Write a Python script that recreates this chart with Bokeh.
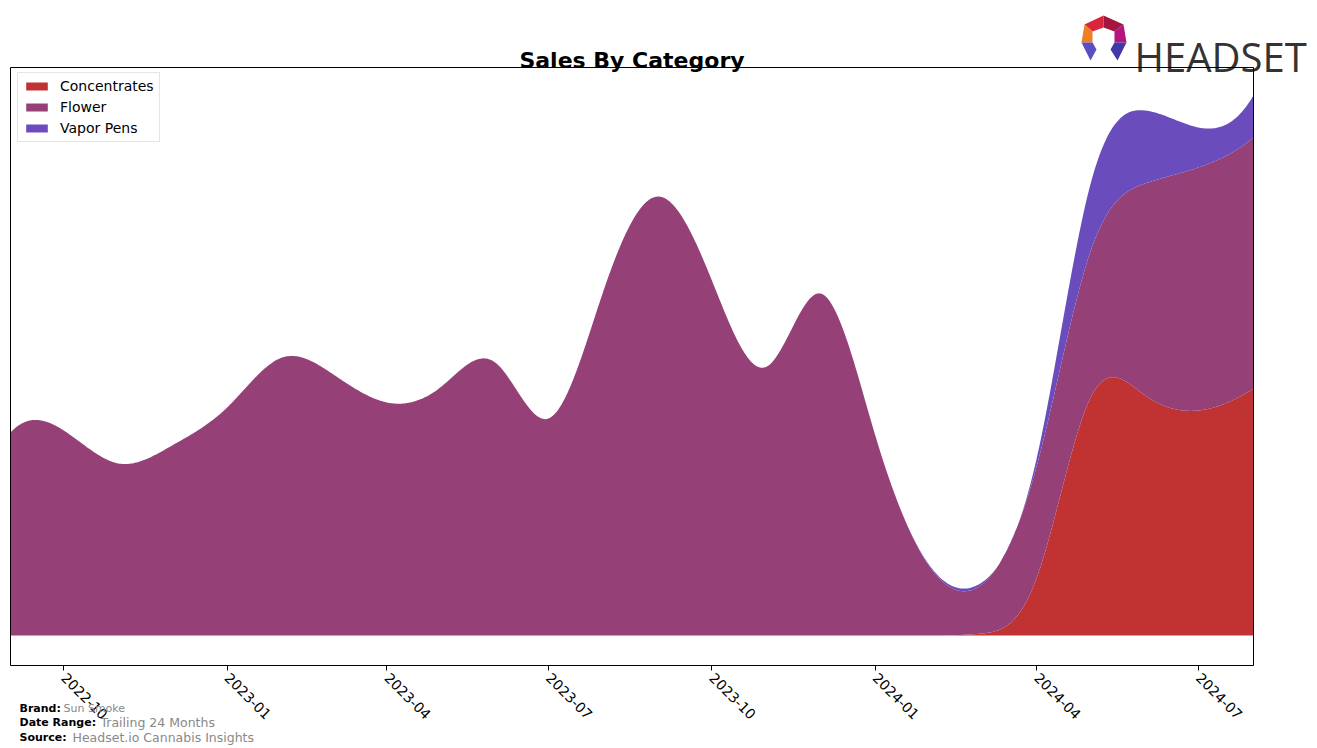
import math
import numpy as np
import pandas as pd
from bokeh.plotting import figure
from bokeh.models import (Range1d, FixedTicker, DatetimeTickFormatter, Label,
                          PolyAnnotation, BoxAnnotation)
from bokeh.embed import file_html
from bokeh.resources import INLINE

# ---------------- data (monthly) ----------------
months = ["2022-09", "2022-10", "2022-11", "2022-12", "2023-01", "2023-02",
          "2023-03", "2023-04", "2023-05", "2023-06", "2023-07", "2023-08",
          "2023-09", "2023-10", "2023-11", "2023-12", "2024-01", "2024-02",
          "2024-03", "2024-04", "2024-05", "2024-06", "2024-07", "2024-08"]
concentrates = [0, 0, 0, 0, 0, 0, 0, 0, 0, 0, 0, 0,
                0, 0, 0, 0, 0, 0, 2, 58, 237, 240, 225, 247]
flower = [203, 205, 172, 190, 228, 278, 262, 233, 248, 273, 217, 345,
          439, 355, 269, 342, 200, 68, 49, 112, 146, 212, 243, 251]
vapor_pens = [0, 0, 0, 0, 0, 0, 0, 0, 0, 0, 0, 0,
              0, 0, 0, 0, 0, 1, 2, 8, 67, 73, 40, 42]
series_names = ["Concentrates", "Flower", "Vapor Pens"]
series_colors = ["#c13333", "#964078", "#6a4cbc"]
tick_labels = ["2022-10", "2023-01", "2023-04", "2023-07", "2023-10",
               "2024-01", "2024-04", "2024-07"]

title_text = "Sales By Category"
brand = "Sun Smoke"
date_range = "Trailing 24 Months"
source = "Headset.io Cannabis Insights"


# ---------------- smoothing (cubic spline, not-a-knot) ----------------
def spline(x, y, xs):
    x = np.asarray(x, float)
    y = np.asarray(y, float)
    n = len(x)
    h = np.diff(x)
    A = np.zeros((n, n))
    r = np.zeros(n)
    A[0, 0] = h[1]
    A[0, 1] = -(h[0] + h[1])
    A[0, 2] = h[0]
    A[-1, -3] = h[-1]
    A[-1, -2] = -(h[-1] + h[-2])
    A[-1, -1] = h[-2]
    for i in range(1, n - 1):
        A[i, i - 1] = h[i - 1]
        A[i, i] = 2 * (h[i - 1] + h[i])
        A[i, i + 1] = h[i]
        r[i] = 3 * ((y[i + 1] - y[i]) / h[i] - (y[i] - y[i - 1]) / h[i - 1])
    c = np.linalg.solve(A, r)
    b = (y[1:] - y[:-1]) / h - h * (2 * c[:-1] + c[1:]) / 3
    d = (c[1:] - c[:-1]) / (3 * h)
    idx = np.clip(np.searchsorted(x, xs, side="right") - 1, 0, n - 2)
    t = xs - x[idx]
    return y[idx] + b[idx] * t + c[idx] * t ** 2 + d[idx] * t ** 3


dates = pd.to_datetime(months)
base = dates[0]
xdays = np.array([(d - base).days for d in dates], float)
xs = np.linspace(xdays[0], xdays[-1], 900)
xs_dt = (np.datetime64(base.to_datetime64(), "ms")
         + (xs * 86400000).astype("timedelta64[ms]"))

layers = [concentrates, flower, vapor_pens]
cum = np.zeros_like(xs)
stack = []
for vals in layers:
    s = spline(xdays, vals, xs)
    stack.append((cum.copy(), cum + s))
    cum = cum + s


def ms(ts):
    return pd.Timestamp(ts).value / 1e6


# ---------------- layout geometry ----------------
W, H = 1317, 748
BL, BR, BT, BB = 10, 1253, 67, 665     # chart box in canvas px
Y_LO, Y_HI = -30, 568                  # value range of the chart box

x0, x1 = ms(dates[0]), ms(dates[-1])
mpp = (x1 - x0) / (BR - BL)            # ms per pixel
upp = (Y_HI - Y_LO) / (BB - BT)        # value units per pixel

p = figure(width=W, height=H, x_axis_type="datetime",
           x_range=Range1d(x0 - BL * mpp, x1 + (W - BR) * mpp),
           y_range=Range1d(Y_LO - (H - BB) * upp, Y_HI + BT * upp),
           output_backend="svg", toolbar_location=None,
           min_border=0, min_border_left=0, min_border_right=0,
           min_border_top=0, min_border_bottom=0,
           y_axis_location=None)
p.grid.visible = False
p.outline_line_color = None
p.background_fill_color = "white"
p.border_fill_color = "white"

for (lo, hi), name, col in zip(stack, series_names, series_colors):
    p.varea(x=xs_dt, y1=lo, y2=hi, fill_color=col, fill_alpha=1,
            legend_label=name)

# chart box
p.add_layout(BoxAnnotation(left=x0, right=x1, bottom=Y_LO, top=Y_HI,
                           fill_alpha=0, line_color="black", line_alpha=1,
                           line_width=1, level="overlay"))

ax = p.xaxis[0]
ax.fixed_location = Y_LO
ax.ticker = FixedTicker(ticks=[ms(t + "-01") for t in tick_labels])
ax.formatter = DatetimeTickFormatter(days="%Y-%m", months="%Y-%m",
                                     years="%Y-%m", hours="%Y-%m")
ax.major_label_orientation = -math.pi / 4
ax.major_label_text_font = "DejaVu Sans"
ax.major_label_text_font_size = "14px"
ax.major_label_text_color = "black"
ax.major_tick_out = 5
ax.major_tick_in = 0
ax.major_tick_line_color = "black"
ax.minor_tick_line_color = None
ax.axis_line_color = None
ax.major_label_standoff = 5

lg = p.legend[0]
lg.location = (17, H - 142)
lg.margin = 0
lg.padding = 5
lg.spacing = 5
lg.glyph_width = 27
lg.glyph_height = 10
lg.label_height = 16
lg.label_standoff = 10
lg.label_text_font = "DejaVu Sans"
lg.label_text_font_size = "14px"
lg.label_text_color = "black"
lg.border_line_color = "#cccccc"
lg.background_fill_alpha = 0.8


def sx(cx):
    return cx


def sy(cy):
    return H - cy


# title
p.add_layout(Label(x=sx((BL + BR) / 2), y=sy(60), x_units="screen",
                   y_units="screen", text=title_text, text_align="center",
                   text_baseline="alphabetic", text_font="DejaVu Sans",
                   text_font_style="bold", text_font_size="22px",
                   text_color="black"))

# footer
foot = [("Brand:", brand, 708, "11px", 63),
        ("Date Range:", date_range, 722, "12.5px", 100),
        ("Source:", source, 737, "12.5px", 72)]
for lab, val, base_y, vsize, vx in foot:
    p.add_layout(Label(x=sx(19), y=sy(base_y), x_units="screen",
                       y_units="screen", text=lab, text_font="DejaVu Sans",
                       text_font_style="bold", text_font_size="11px",
                       text_color="black", text_baseline="alphabetic"))
    p.add_layout(Label(x=sx(vx), y=sy(base_y), x_units="screen",
                       y_units="screen", text=val, text_font="DejaVu Sans",
                       text_font_size=vsize, text_color="#888888",
                       text_baseline="alphabetic"))

# logo
p.add_layout(Label(x=sx(1134), y=sy(56), x_units="screen", y_units="screen",
                   text="HEADSET", text_font="Open Sans",
                   text_font_size="40px", text_color="#333333",
                   text_baseline="alphabetic"))
facets = [
    ([1084, 1103, 1103, 1092], [24, 15, 27, 31], "#d9263c"),
    ([1103, 1123, 1114, 1103], [15, 24, 31, 27], "#a3173f"),
    ([1084, 1092, 1092, 1081], [24, 31, 42, 42], "#f07f22"),
    ([1123, 1126, 1114, 1114], [24, 42, 42, 31], "#b5157f"),
    ([1081, 1092, 1096, 1090], [42, 42, 49, 60], "#5a4fc0"),
    ([1114, 1126, 1117, 1110], [42, 42, 60, 49], "#4338a8"),
]
for fx, fy, fc in facets:
    p.add_layout(PolyAnnotation(xs=[sx(v) for v in fx], ys=[sy(v) for v in fy],
                                xs_units="screen", ys_units="screen",
                                fill_color=fc, fill_alpha=1, line_alpha=0))

open("out.html", "w").write(file_html(p, INLINE))
